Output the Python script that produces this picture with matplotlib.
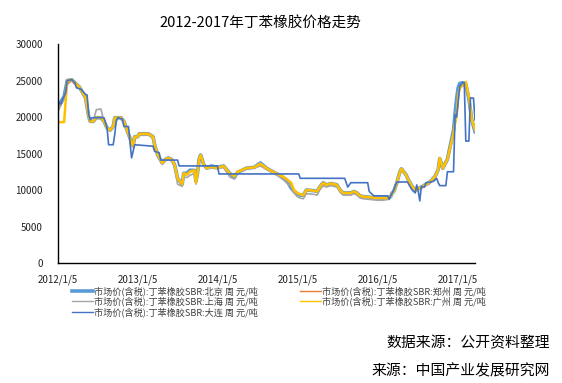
"""
2012-2017 丁苯橡胶价格走势
"""
import pandas as pd
import matplotlib
matplotlib.use('Agg')
import matplotlib.pyplot as plt

plt.rcParams['font.family'] = ['Noto Sans CJK SC', 'DejaVu Sans']

# weekly dates (北京/郑州/上海/广州 share these)
dates = ['2012-01-05', '2012-02-02', '2012-02-16', '2012-03-08', '2012-03-22', '2012-04-12',
         '2012-05-10', '2012-05-24', '2012-05-31', '2012-06-14', '2012-06-28', '2012-07-19',
         '2012-08-02', '2012-08-16', '2012-08-30', '2012-09-13', '2012-09-20', '2012-10-18',
         '2012-11-01', '2012-11-15', '2012-11-29', '2012-12-13', '2012-12-20', '2013-01-03',
         '2013-01-10', '2013-02-21', '2013-03-14', '2013-03-21', '2013-04-04', '2013-04-25',
         '2013-05-09', '2013-05-23', '2013-06-06', '2013-06-20', '2013-07-04', '2013-07-25',
         '2013-08-01', '2013-08-15', '2013-08-29', '2013-09-19', '2013-09-26', '2013-10-03',
         '2013-10-10', '2013-10-17', '2013-10-24', '2013-10-31', '2013-11-14', '2013-12-05',
         '2014-01-02', '2014-01-30', '2014-02-27', '2014-03-20', '2014-04-03', '2014-05-15',
         '2014-06-19', '2014-07-17', '2014-08-14', '2014-09-18', '2014-10-02', '2014-10-16',
         '2014-10-30', '2014-11-13', '2014-12-04', '2014-12-18', '2015-01-01', '2015-01-15',
         '2015-01-29', '2015-02-12', '2015-03-19', '2015-04-02', '2015-04-16', '2015-04-30',
         '2015-05-14', '2015-06-04', '2015-06-18', '2015-07-02', '2015-07-16', '2015-07-30',
         '2015-09-03', '2015-09-17', '2015-10-01', '2015-10-15', '2015-10-29', '2015-12-03',
         '2015-12-31', '2016-01-28', '2016-02-18', '2016-03-03', '2016-03-10', '2016-03-17',
         '2016-03-31', '2016-04-14', '2016-04-21', '2016-05-12', '2016-05-26', '2016-06-09',
         '2016-06-23', '2016-07-07', '2016-07-21', '2016-08-11', '2016-08-25', '2016-09-08',
         '2016-09-22', '2016-10-06', '2016-10-13', '2016-10-27', '2016-11-17', '2016-12-01',
         '2016-12-15', '2016-12-22', '2016-12-29', '2017-01-05', '2017-01-12', '2017-01-26',
         '2017-02-09', '2017-02-23', '2017-03-09', '2017-03-23']

guangzhou = [19300, 19300, 25000, 25100, 24700, 24100, 22600, 20100, 19400, 19400, 19900, 19900,
             19400, 18500, 18200, 18700, 19900, 19900, 19400, 18200, 17100, 16000, 17300, 17300,
             17700, 17700, 17300, 16200, 14800, 13700, 14200, 14400, 14200, 13500, 11600, 10800,
             12300, 12100, 12500, 12700, 11000, 12300, 14200, 14800, 14200, 13500, 13000, 13200,
             13000, 13300, 12300, 11900, 12500, 13000, 13100, 13600, 13000, 12400, 12200, 12000,
             11800, 11500, 11000, 10000, 9600, 9400, 9300, 10000, 9900, 9800, 10500, 11000,
             10700, 10900, 10800, 10700, 10000, 9600, 9600, 9800, 9600, 9200, 9100, 9000,
             8900, 8900, 8900, 9100, 9600, 9800, 11000, 12500, 12900, 12100, 11200, 10500,
             10000, 10200, 10400, 10800, 11000, 11400, 11900, 12800, 14400, 13000, 14200, 16000,
             17800, 19200, 20300, 22800, 24000, 24400, 24800, 22800, 19600, 18300]

beijing = [21500, 22800, 25000, 25100, 24700, 24100, 22600, 20100, 19400, 19400, 19900, 19900,
           19400, 18500, 18200, 18700, 19900, 19900, 19400, 18200, 17100, 16000, 17300, 17300,
           17700, 17700, 17300, 16200, 14800, 13700, 14200, 14400, 14200, 13500, 11600, 10800,
           12300, 12300, 12700, 12700, 11200, 12300, 14200, 14800, 14200, 13500, 13000, 13300,
           13100, 13300, 12300, 11700, 12400, 13000, 13100, 13700, 13000, 12400, 12200, 12000,
           11700, 11400, 10300, 9800, 9500, 9300, 9300, 10000, 9900, 9800, 10500, 11000,
           10700, 10900, 10800, 10700, 10000, 9600, 9600, 9800, 9600, 9200, 9100, 9000,
           8900, 8900, 8900, 9100, 9600, 9800, 11000, 12500, 12900, 12100, 11200, 10500,
           10000, 10200, 10400, 10800, 11000, 11400, 11900, 12800, 14300, 13000, 14200, 16200,
           18200, 20500, 22500, 24000, 24600, 24700, 24500, 22500, 19500, 18000]

zhengzhou = [21000, 22500, 24500, 25000, 24500, 24100, 22600, 20100, 19400, 19400, 19900, 19900,
             19400, 18500, 18200, 18700, 19900, 19900, 19400, 18200, 17100, 16000, 17300, 17300,
             17700, 17700, 17300, 16200, 14800, 13700, 14200, 14400, 14200, 13500, 11600, 10800,
             12300, 12100, 12500, 12700, 11000, 12300, 14200, 14800, 13800, 13500, 13000, 13200,
             13000, 13300, 12300, 11900, 12500, 13000, 13100, 13600, 13000, 12400, 12200, 12000,
             11800, 11500, 11000, 10000, 9600, 9400, 9300, 10000, 9900, 9800, 10500, 11000,
             10700, 10900, 10800, 10700, 10000, 9600, 9600, 9800, 9600, 9200, 9100, 9000,
             8900, 8900, 8900, 9100, 9600, 9800, 11000, 12500, 12900, 12100, 11200, 10500,
             10000, 10200, 10400, 10800, 11000, 11400, 11900, 12800, 14400, 13000, 14200, 16000,
             17800, 19200, 20300, 22800, 24000, 24400, 24800, 22800, 19600, 18300]

shanghai = [20800, 22500, 24800, 25000, 24600, 24000, 22600, 20100, 19400, 19500, 21000, 21100,
            19400, 18300, 18100, 18700, 19800, 19900, 19300, 18100, 17000, 16000, 17100, 17200,
            17500, 17500, 17100, 16000, 14700, 13500, 14000, 14300, 14000, 13300, 10800, 10500,
            11800, 11700, 12000, 12300, 10800, 12000, 14000, 14700, 14000, 13300, 12900, 13000,
            12900, 13100, 11800, 11500, 12300, 12900, 13000, 13300, 12800, 12200, 12000, 11700,
            11400, 11000, 10500, 9600, 9100, 8900, 8800, 9500, 9400, 9300, 10100, 10600,
            10400, 10600, 10500, 10400, 9700, 9300, 9300, 9500, 9300, 8900, 8800, 8700,
            8600, 8600, 8700, 9000, 9500, 9700, 10800, 12300, 12700, 11900, 11000, 10300,
            9800, 10000, 10200, 10600, 10800, 11200, 11700, 12600, 14000, 12800, 14000, 15800,
            17600, 19000, 20000, 22500, 23800, 24300, 24200, 22300, 19300, 18000]

# 大连 moves in steps, so it has its own dates
dalian_dates = ['2012-01-05', '2012-01-19', '2012-01-26', '2012-02-09', '2012-02-16', '2012-03-08',
                '2012-03-22', '2012-03-29', '2012-04-19', '2012-05-10', '2012-05-17', '2012-05-24',
                '2012-05-31', '2012-06-07', '2012-08-02', '2012-08-16', '2012-08-23', '2012-09-13',
                '2012-09-20', '2012-09-27', '2012-10-04', '2012-10-25', '2012-11-01', '2012-11-22',
                '2012-11-29', '2012-12-06', '2012-12-20', '2013-03-14', '2013-03-21', '2013-04-11',
                '2013-04-18', '2013-07-04', '2013-07-11', '2014-01-02', '2014-01-09', '2015-01-08',
                '2015-01-15', '2015-08-06', '2015-08-20', '2015-09-03', '2015-11-19', '2015-11-26',
                '2015-12-17', '2016-02-18', '2016-02-25', '2016-03-03', '2016-03-17', '2016-03-31',
                '2016-05-19', '2016-05-26', '2016-06-09', '2016-06-23', '2016-06-30', '2016-07-07',
                '2016-07-14', '2016-07-21', '2016-08-04', '2016-08-11', '2016-09-01', '2016-09-15',
                '2016-09-29', '2016-10-06', '2016-10-13', '2016-11-10', '2016-11-17', '2016-12-15',
                '2016-12-22', '2016-12-29', '2017-01-05', '2017-01-12', '2017-01-26', '2017-02-02',
                '2017-02-09', '2017-02-23', '2017-03-02', '2017-03-16', '2017-03-23']
dalian = [22000, 21800, 22400, 23300, 25000, 25100, 24700, 24000, 23800, 23100, 23000, 20300,
          19600, 19900, 19900, 18500, 16200, 16200, 17600, 19400, 19900, 19700, 18700, 18700,
          16400, 14400, 16200, 16000, 15300, 15100, 14100, 14100, 13300, 13300, 12200, 12200,
          11600, 11600, 10400, 11000, 11000, 9800, 9200, 9200, 8700, 9200, 10000, 11100,
          11100, 10700, 10000, 9600, 10700, 9800, 8500, 10500, 10400, 11000, 11100, 11200,
          11600, 11000, 10600, 10600, 12500, 12500, 20300, 20000, 22000, 24200, 24700, 24700,
          16700, 16700, 22600, 22600, 19600]

labels = ['市场价(含税):丁苯橡胶SBR:北京 周 元/吨',
          '市场价(含税):丁苯橡胶SBR:郑州 周 元/吨',
          '市场价(含税):丁苯橡胶SBR:上海 周 元/吨',
          '市场价(含税):丁苯橡胶SBR:广州 周 元/吨',
          '市场价(含税):丁苯橡胶SBR:大连 周 元/吨']

tick_dates = ['2012-01-05', '2013-01-05', '2014-01-05', '2015-01-05', '2016-01-05', '2017-01-05']
tick_labels = ['2012/1/5', '2013/1/5', '2014/1/5', '2015/1/5', '2016/1/5', '2017/1/5']

x = pd.to_datetime(dates)
x_dl = pd.to_datetime(dalian_dates)

fig = plt.figure(figsize=(5.62, 3.83), dpi=100)
ax = fig.add_axes([0.1032, 0.3133, 0.742, 0.5718])

l_bj, = ax.plot(x, beijing, color='#5B9BD5', lw=2.6)
l_zz, = ax.plot(x, zhengzhou, color='#ED7D31', lw=1.2)
l_sh, = ax.plot(x, shanghai, color='#A5A5A5', lw=1.2)
l_gz, = ax.plot(x, guangzhou, color='#FFC000', lw=1.8)
l_dl, = ax.plot(x_dl, dalian, color='#4472C4', lw=1.2)

ax.set_xlim(x[0], x[-1])
ax.set_ylim(0, 30000)
ax.set_yticks(range(0, 30001, 5000))
ax.set_xticks(pd.to_datetime(tick_dates))
ax.set_xticklabels(tick_labels)
ax.tick_params(axis='both', length=0, labelsize=7, colors='#222222')
ax.tick_params(axis='y', pad=11)
ax.tick_params(axis='x', pad=8)
for s in ['top', 'right']:
    ax.spines[s].set_visible(False)
ax.spines['left'].set_color('black')
ax.spines['bottom'].set_color('black')
ax.spines['left'].set_linewidth(1.0)
ax.spines['bottom'].set_linewidth(1.0)

fig.text(260/562, 1 - 23/383, '2012-2017年丁苯橡胶价格走势', ha='center', va='center', fontsize=10.5)

# Excel fills the legend row by row, matplotlib column by column
leg = fig.legend([l_bj, l_sh, l_dl, l_zz, l_gz], [labels[0], labels[2], labels[4], labels[1], labels[3]],
                 ncol=2, loc='upper left', bbox_to_anchor=(72/562, 1 - 286/383), frameon=False,
                 fontsize=6.6, handlelength=2.3, handletextpad=0.1, columnspacing=4.6,
                 labelspacing=0.1, borderaxespad=0, borderpad=0, labelcolor='#404040')
# only the 北京 key is drawn thick
for line in leg.get_lines()[1:]:
    line.set_linewidth(1.0)

fig.text(550/562, 1 - 343/383, '数据来源：公开资料整理', ha='right', va='center', fontsize=10.7)
fig.text(550/562, 1 - 371/383, '来源：中国产业发展研究网', ha='right', va='center', fontsize=10.7)

fig.savefig('out.png', dpi=100)
